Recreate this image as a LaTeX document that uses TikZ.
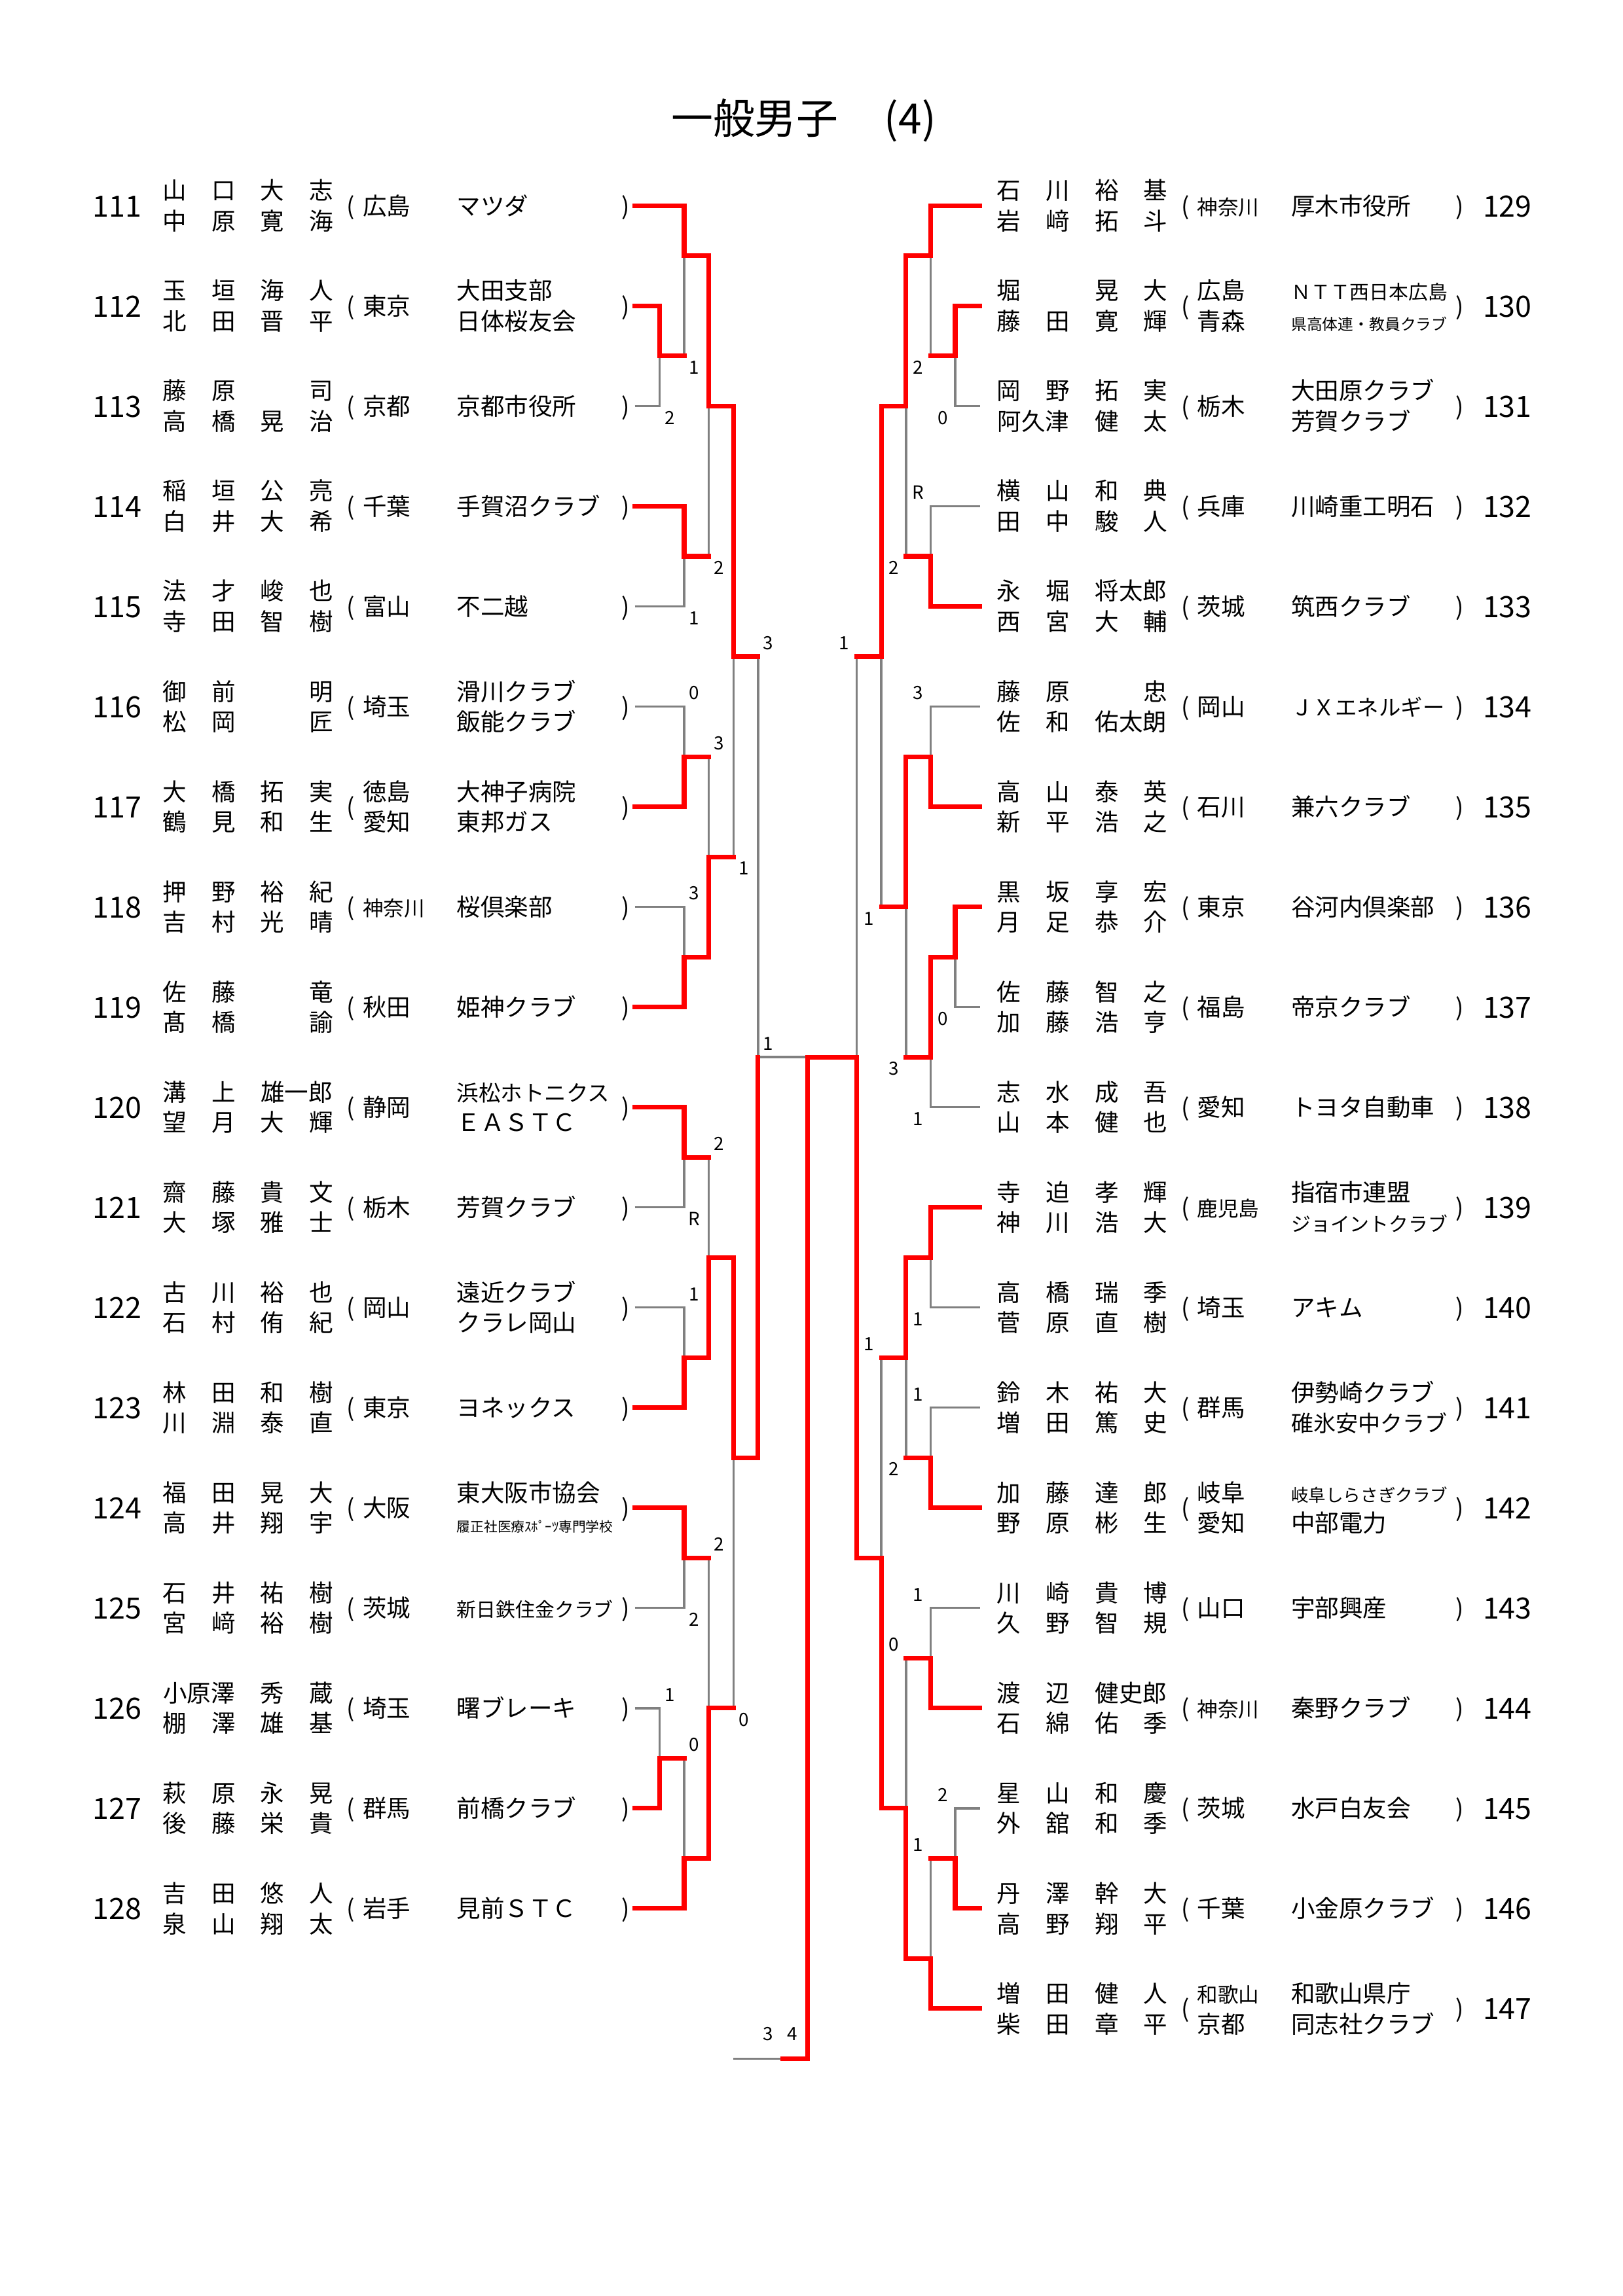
\documentclass[tikz,border=0pt]{standalone}
\usepackage{fontspec}
\setmainfont{Noto Sans CJK JP}
\usepackage{tikz}

\definecolor{winred}{RGB}{255,0,0}
\definecolor{linegray}{RGB}{128,128,128}

\newcommand\fz[1]{\fontsize{#1}{#1}\selectfont}
\newcommand\kc[1]{\makebox[6.319mm][c]{#1}}
\newcommand\kd[1]{\makebox[12.638mm][c]{#1}}
\newcommand\nm[4]{\kc{#1}\kc{#2}\kc{#3}\kc{#4}}
\newcommand\two[2]{\rlap{\raisebox{5.63pt}{#1}}\raisebox{-5.63pt}{#2}}

\begin{document}
\begin{tikzpicture}[x=0.190909mm, y=-0.190909mm,
    txt/.style={inner sep=0pt, font=\fz{8.8}, text height=7.74pt, text depth=1.06pt},
    num/.style={inner sep=0pt, font=\fz{10.8}, text height=9.5pt, text depth=1.3pt},
    sc/.style={inner sep=0pt, font=\fz{6.7}, text height=5.9pt, text depth=0.8pt},
    br/.style={sc, xshift=1.32mm, yshift=-1.45mm},
    ar/.style={sc, xshift=1.32mm, yshift=1.80mm},
    bl/.style={sc, xshift=-1.60mm, yshift=-1.45mm},
    al/.style={sc, xshift=-1.60mm, yshift=1.80mm},
    win/.style={draw=winred, line width=0.6mm, line cap=rect},
    lose/.style={draw=linegray, line width=0.3mm}
  ]
  \fill[white] (0,0) rectangle (1100,1556.6);
  \useasboundingbox (0,0) rectangle (1100,1556.6);

  \node[inner sep=0pt, anchor=west, font=\fz{15.4}, text height=13.55pt, text depth=1.85pt]
    (title) at (454.5,80) {一般男子　\hspace{0.1em}(4)};

  \foreach \id/\nam/\prf/\tea [count=\i from 0] in {
    111/{\two{\nm 山口大志}{\nm 中原寛海}}/広島/マツダ,
    112/{\two{\nm 玉垣海人}{\nm 北田晋平}}/東京/{\two{大田支部}{日体桜友会}},
    113/{\two{\nm 藤原{}司}{\nm 高橋晃治}}/京都/京都市役所,
    114/{\two{\nm 稲垣公亮}{\nm 白井大希}}/千葉/手賀沼クラブ,
    115/{\two{\nm 法才峻也}{\nm 寺田智樹}}/富山/不二越,
    116/{\two{\nm 御前{}明}{\nm 松岡{}匠}}/埼玉/{\two{滑川クラブ}{飯能クラブ}},
    117/{\two{\nm 大橋拓実}{\nm 鶴見和生}}/{\two{徳島}{愛知}}/{\two{大神子病院}{東邦ガス}},
    118/{\two{\nm 押野裕紀}{\nm 吉村光晴}}/{\fz{7.6}神奈川}/桜倶楽部,
    119/{\two{\nm 佐藤{}竜}{\nm 髙橋{}諭}}/秋田/姫神クラブ,
    120/{\two{\kc 溝\kc 上\kd{雄一郎}}{\nm 望月大輝}}/静岡/{\two{\fz{8.07}浜松ホトニクス}{ＥＡＳＴＣ}},
    121/{\two{\nm 齋藤貴文}{\nm 大塚雅士}}/栃木/芳賀クラブ,
    122/{\two{\nm 古川裕也}{\nm 石村侑紀}}/岡山/{\two{遠近クラブ}{クラレ岡山}},
    123/{\two{\nm 林田和樹}{\nm 川淵泰直}}/東京/ヨネックス,
    124/{\two{\nm 福田晃大}{\nm 高井翔宇}}/大阪/{\two{東大阪市協会}{\fz{5}履正社医療ｽﾎﾟｰﾂ専門学校}},
    125/{\two{\nm 石井祐樹}{\nm 宮﨑裕樹}}/茨城/{\fz{7.2}新日鉄住金クラブ},
    126/{\two{\kd{小原澤}\kc 秀\kc 蔵}{\nm 棚澤雄基}}/埼玉/曙ブレーキ,
    127/{\two{\nm 萩原永晃}{\nm 後藤栄貴}}/群馬/前橋クラブ,
    128/{\two{\nm 吉田悠人}{\nm 泉山翔太}}/岩手/見前ＳＴＣ}{
    \pgfmathsetmacro\y{139.5+67.9*\i}
    \coordinate (e\id) at (430.3,\y);
    \node[num] (n\id) at (79.4,\y) {\id};
    \node[txt, anchor=west] (m\id) at (101.45,\y) {\nam};
    \node[txt] (o\id) at (237.8,\y) {(};
    \node[txt, anchor=west] (p\id) at (245.6,\y) {\prf};
    \node[txt, anchor=west] (t\id) at (309.3,\y) {\tea};
    \node[txt] (c\id) at (424,\y) {)};
  }

  \foreach \id/\nam/\prf/\tea [count=\i from 0] in {
    129/{\two{\nm 石川裕基}{\nm 岩﨑拓斗}}/{\fz{7.6}神奈川}/厚木市役所,
    130/{\two{\nm 堀{}晃大}{\nm 藤田寛輝}}/{\two{広島}{青森}}/{\two{\fz{7.2}ＮＴＴ西日本広島}{\fz{5.74}県高体連・教員クラブ}},
    131/{\two{\nm 岡野拓実}{\kd{阿久津}\kc 健\kc 太}}/栃木/{\two{大田原クラブ}{芳賀クラブ}},
    132/{\two{\nm 横山和典}{\nm 田中駿人}}/兵庫/川崎重工明石,
    133/{\two{\kc 永\kc 堀\kd{将太郎}}{\nm 西宮大輔}}/茨城/筑西クラブ,
    134/{\two{\nm 藤原{}忠}{\kc 佐\kc 和\kd{佑太朗}}}/岡山/{\fz{8.07}ＪＸエネルギー},
    135/{\two{\nm 高山泰英}{\nm 新平浩之}}/石川/兼六クラブ,
    136/{\two{\nm 黒坂享宏}{\nm 月足恭介}}/東京/谷河内倶楽部,
    137/{\two{\nm 佐藤智之}{\nm 加藤浩亨}}/福島/帝京クラブ,
    138/{\two{\nm 志水成吾}{\nm 山本健也}}/愛知/トヨタ自動車,
    139/{\two{\nm 寺迫孝輝}{\nm 神川浩大}}/{\fz{7.6}鹿児島}/{\two{指宿市連盟}{\fz{7.2}ジョイントクラブ}},
    140/{\two{\nm 高橋瑞季}{\nm 菅原直樹}}/埼玉/アキム,
    141/{\two{\nm 鈴木祐大}{\nm 増田篤史}}/群馬/{\two{伊勢崎クラブ}{\fz{8.2}碓氷安中クラブ}},
    142/{\two{\nm 加藤達郎}{\nm 野原彬生}}/{\two{岐阜}{愛知}}/{\two{\fz{6.4}岐阜しらさぎクラブ}{中部電力}},
    143/{\two{\nm 川崎貴博}{\nm 久野智規}}/山口/宇部興産,
    144/{\two{\kc 渡\kc 辺\kd{健史郎}}{\nm 石綿佑季}}/{\fz{7.6}神奈川}/秦野クラブ,
    145/{\two{\nm 星山和慶}{\nm 外舘和季}}/茨城/水戸白友会,
    146/{\two{\nm 丹澤幹大}{\nm 高野翔平}}/千葉/小金原クラブ,
    147/{\two{\nm 増田健人}{\nm 柴田章平}}/{\two{\fz{7.6}和歌山}{京都}}/{\two{和歌山県庁}{同志社クラブ}}}{
    \pgfmathsetmacro\y{139.5+67.9*\i}
    \coordinate (e\id) at (664.1,\y);
    \node[txt, anchor=west] (m\id) at (666.95,\y) {\nam};
    \node[txt] (o\id) at (803.3,\y) {(};
    \node[txt, anchor=west] (p\id) at (811.1,\y) {\prf};
    \node[txt, anchor=west] (t\id) at (874.8,\y) {\tea};
    \node[txt] (c\id) at (989.5,\y) {)};
    \node[num] (n\id) at (1021.6,\y) {\id};
  }

  \begin{scope}[shift={(430.3,139.5)}, x=3.1882mm, y=-6.4814mm]
    \draw[lose] (e113) -| (1,3);
    \draw[lose] (2,3) -- (2,1);
    \draw[lose] (e115) -| (2,7);
    \draw[lose] (3,7) -- (3,4);
    \draw[lose] (5,9) -- (5,17);
    \draw[lose] (e116) -| (2,11);
    \draw[lose] (3,11) -- (3,13);
    \draw[lose] (e118) -| (2,15);
    \draw[lose] (4,13) -- (4,9);
    \draw[lose] (3,19) -- (3,21);
    \draw[lose] (e121) -| (2,19);
    \draw[lose] (e122) -| (2,23);
    \draw[lose] (5,17) -- (7,17);
    \draw[lose] (3,27) -- (3,30);
    \draw[lose] (e125) -| (2,27);
    \draw[lose] (e126) -| (1,31);
    \draw[lose] (2,31) -- (2,33);
    \draw[lose] (4,30) -- (4,25);
    \draw[lose] (6,37) -- (4,37);

    \draw[lose] (12,3) -- (12,1);
    \draw[lose] (e131) -| (13,3);
    \draw[lose] (e132) -| (12,7);
    \draw[lose] (11,7) -- (11,4);
    \draw[lose] (9,9) -- (9,17);
    \draw[lose] (e134) -| (12,11);
    \draw[lose] (e137) -| (13,15);
    \draw[lose] (e138) -| (12,17);
    \draw[lose] (11,17) -- (11,14);
    \draw[lose] (10,14) -- (10,9);
    \draw[lose] (e140) -| (12,21);
    \draw[lose] (e141) -| (12,25);
    \draw[lose] (11,25) -- (11,23);
    \draw[lose] (10,23) -- (10,27);
    \draw[lose] (e143) -| (12,29);
    \draw[lose] (11,29) -- (11,32);
    \draw[lose] (e145) -| (13,33);
    \draw[lose] (12,33) -- (12,35);

    \draw[win] (e111) -| (2,1) -| (3,4) -| (4,9) -- (5,9);
    \draw[win] (e112) -| (1,3) -- (2,3);
    \draw[win] (e114) -| (2,7) -- (3,7);
    \draw[win] (e117) -| (2,11) -- (3,11);
    \draw[win] (e119) -| (2,15) -| (3,13) -- (4,13);
    \draw[win] (e120) -| (2,19) -- (3,19);
    \draw[win] (e123) -| (2,23) -| (3,21) -| (4,25) -| (5,17);
    \draw[win] (e124) -| (2,27) -- (3,27);
    \draw[win] (e127) -| (1,31) -- (2,31);
    \draw[win] (e128) -| (2,33) -| (3,30) -- (4,30);

    \draw[win] (e129) -| (12,1) -| (11,4) -| (10,9) -- (9,9);
    \draw[win] (e130) -| (13,3) -- (12,3);
    \draw[win] (e133) -| (12,7) -- (11,7);
    \draw[win] (e135) -| (12,11) -| (11,14) -- (10,14);
    \draw[win] (e136) -| (13,15) -| (12,17) -- (11,17);
    \draw[win] (e139) -| (12,21) -| (11,23) -- (10,23);
    \draw[win] (e142) -| (12,25) -- (11,25);
    \draw[win] (e144) -| (12,29) -- (11,29);
    \draw[win] (e146) -| (13,33) -- (12,33);
    \draw[win] (e147) -| (12,35) -| (11,32) -| (10,27) -| (9,17) -| (7,37) -- (6,37);

    \foreach \q/\s [count=\k] in {{2,3}/1, {1,4}/2, {3,7}/2, {2,8}/1, {4,13}/1, {2,20}/R, {2,28}/2, {4,30}/0}
      \node[br] (sbr\k) at (\q) {\s};
    \foreach \q/\s [count=\k] in {{5,9}/3, {2,10}/0, {3,11}/3, {2,14}/3, {5,17}/1, {3,19}/2, {2,22}/1, {3,27}/2, {1,30}/1, {2,31}/0}
      \node[ar] (sar\k) at (\q) {\s};
    \foreach \q/\s [count=\k] in {{12,3}/2, {13,4}/0, {11,7}/2, {10,14}/1, {13,16}/0, {11,17}/3, {12,18}/1, {12,22}/1, {11,25}/2}
      \node[bl] (sbl\k) at (\q) {\s};
    \foreach \q/\s [count=\k] in {{12,6}/R, {9,9}/1, {12,10}/3, {10,23}/1, {12,24}/1, {12,28}/1, {11,29}/0, {13,32}/2, {12,33}/1}
      \node[al] (sal\k) at (\q) {\s};
    \node[sc] (sthree) at (5.4,36.5) {3};
    \node[sc] (sfour) at (6.4,36.5) {4};
  \end{scope}
\end{tikzpicture}
\end{document}
